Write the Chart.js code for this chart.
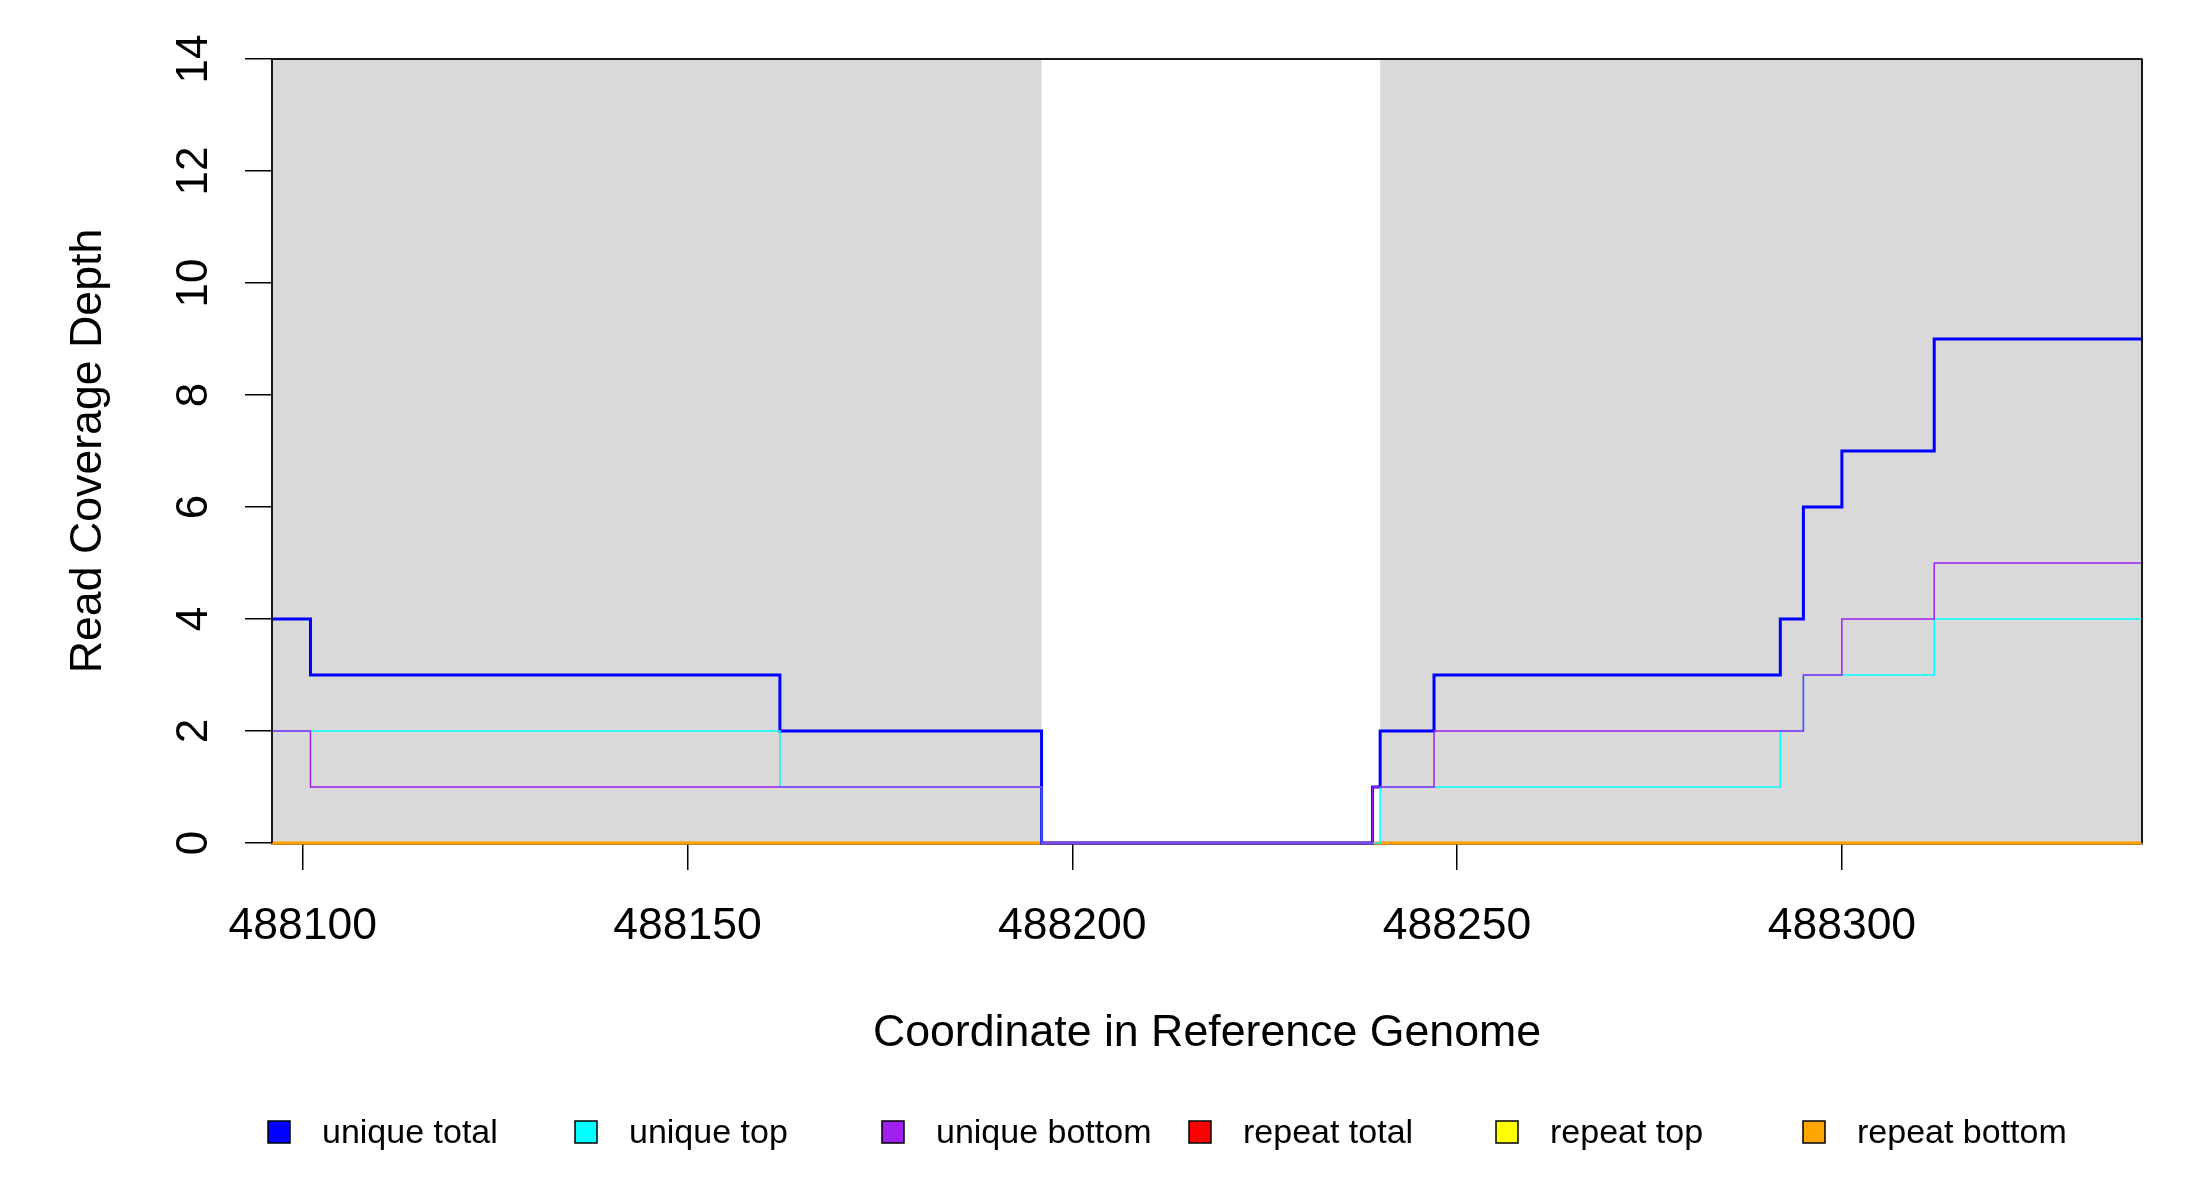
<!DOCTYPE html>
<html lang="en">
<head>
    <meta charset="UTF-8">
    <title>Read Coverage Depth</title>
    <script src="https://cdn.jsdelivr.net/npm/chart.js"></script>
    <style>
        html, body { margin: 0; padding: 0; background: #fff; }
        canvas { display: block; }
    </style>
</head>
<body>
    <canvas id="chart" width="2200" height="1200"></canvas>

    <script>
        // step breakpoints (each value holds until the next coordinate)
        const coords = [488096, 488101, 488162, 488196, 488239, 488240, 488247, 488292, 488295, 488300, 488312, 488339];
        const uniqueTotal  = [4, 3, 2, 0, 1, 2, 3, 4, 6, 7, 9, 9];
        const uniqueTop    = [2, 2, 1, 0, 0, 1, 1, 2, 3, 3, 4, 4];
        const uniqueBottom = [2, 1, 1, 0, 1, 1, 2, 2, 3, 4, 5, 5];
        const repeatTotal  = [0, 0, 0, 0, 0, 0, 0, 0, 0, 0, 0, 0];
        const repeatTop    = [0, 0, 0, 0, 0, 0, 0, 0, 0, 0, 0, 0];
        const repeatBottom = [0, 0, 0, 0, 0, 0, 0, 0, 0, 0, 0, 0];

        const seriesNames = ['unique total', 'unique top', 'unique bottom', 'repeat total', 'repeat top', 'repeat bottom'];
        const seriesColors = ['#0000ff', '#00ffff', '#a020f0', '#ff0000', '#ffff00', '#ffa500'];

        const xTicks = [488100, 488150, 488200, 488250, 488300];
        const yTicks = [0, 2, 4, 6, 8, 10, 12, 14];
        const coveredRegions = [[488096, 488196], [488240, 488339]];

        Chart.defaults.font.family = '"Liberation Sans", Arial, sans-serif';
        Chart.defaults.color = '#000';

        function toPoints(values) {
            return values.map((v, i) => ({ x: coords[i], y: v }));
        }

        const allValues = [uniqueTotal, uniqueTop, uniqueBottom, repeatTotal, repeatTop, repeatBottom];
        const widths = [3, 1.5, 1.5, 2.5, 2.5, 2.5];
        // purple on top, repeat lines underneath
        const drawOrder = [2, 1, 0, 5, 4, 3];

        const datasets = allValues.map((vals, i) => ({
            label: seriesNames[i],
            data: toPoints(vals),
            borderColor: seriesColors[i],
            backgroundColor: seriesColors[i],
            borderWidth: widths[i],
            pointRadius: 0,
            stepped: true,
            fill: false,
            clip: 4,
            order: drawOrder[i]
        }));

        const shading = {
            id: 'shading',
            beforeDatasetsDraw(chart) {
                const { ctx, chartArea, scales: { x } } = chart;
                ctx.save();
                ctx.fillStyle = '#d9d9d9';
                coveredRegions.forEach(([a, b]) => {
                    const x0 = x.getPixelForValue(a);
                    const x1 = x.getPixelForValue(b);
                    ctx.fillRect(x0, chartArea.top, x1 - x0, chartArea.bottom - chartArea.top);
                });
                // plot box, under the lines
                ctx.strokeStyle = '#333';
                ctx.lineWidth = 1.5;
                ctx.strokeRect(chartArea.left, chartArea.top, chartArea.right - chartArea.left, chartArea.bottom - chartArea.top + 1);
                ctx.restore();
            }
        };

        const extras = {
            id: 'extras',
            afterDraw(chart) {
                const { ctx, chartArea, scales: { y } } = chart;
                ctx.save();
                // left, right and top box edges stay on top
                ctx.strokeStyle = '#000';
                ctx.lineWidth = 1.5;
                ctx.beginPath();
                ctx.moveTo(chartArea.left, chartArea.top);
                ctx.lineTo(chartArea.left, chartArea.bottom);
                ctx.moveTo(chartArea.right, chartArea.top);
                ctx.lineTo(chartArea.right, chartArea.bottom);
                ctx.moveTo(chartArea.left, chartArea.top);
                ctx.lineTo(chartArea.right, chartArea.top);
                ctx.stroke();

                // y tick labels, parallel to the axis
                ctx.fillStyle = '#000';
                ctx.font = '44px "Liberation Sans", Arial, sans-serif';
                ctx.textAlign = 'center';
                ctx.textBaseline = 'alphabetic';
                yTicks.forEach(v => {
                    ctx.save();
                    ctx.translate(207, y.getPixelForValue(v));
                    ctx.rotate(-Math.PI / 2);
                    ctx.fillText(String(v), 0, 0);
                    ctx.restore();
                });

                // legend
                ctx.font = '34px "Liberation Sans", Arial, sans-serif';
                ctx.textAlign = 'left';
                chart.data.datasets.forEach((ds, i) => {
                    const cx = 279 + i * 307;
                    const cy = 1132;
                    ctx.fillStyle = ds.borderColor;
                    ctx.fillRect(cx - 11, cy - 11, 22, 22);
                    ctx.strokeStyle = '#000';
                    ctx.lineWidth = 1.5;
                    ctx.strokeRect(cx - 11, cy - 11, 22, 22);
                    ctx.fillStyle = '#000';
                    ctx.fillText(ds.label, cx + 43, 1143);
                });
                ctx.restore();
            }
        };

        new Chart(document.getElementById('chart'), {
            type: 'line',
            data: { datasets },
            plugins: [shading, extras],
            options: {
                responsive: false,
                animation: false,
                devicePixelRatio: 1,
                layout: { padding: { left: 0, top: 59, right: 58, bottom: 0 } },
                plugins: {
                    legend: { display: false },
                    tooltip: { enabled: false }
                },
                scales: {
                    x: {
                        type: 'linear',
                        min: 488096,
                        max: 488339,
                        afterBuildTicks: s => { s.ticks = xTicks.map(v => ({ value: v })); },
                        afterFit: s => { s.height = 357; },
                        grid: { drawOnChartArea: false, drawTicks: true, tickLength: 27, color: '#000', lineWidth: 1.5 },
                        border: { display: false },
                        ticks: {
                            callback: v => String(v),
                            padding: 30,
                            maxRotation: 0,
                            autoSkip: false,
                            font: { size: 44.5 }
                        },
                        title: {
                            display: true,
                            text: 'Coordinate in Reference Genome',
                            font: { size: 44.7 },
                            padding: { top: 0, bottom: 140 }
                        }
                    },
                    y: {
                        min: 0,
                        max: 14,
                        afterBuildTicks: s => { s.ticks = yTicks.map(v => ({ value: v })); },
                        afterFit: s => { s.width = 272; },
                        grid: { drawOnChartArea: false, drawTicks: true, tickLength: 27, color: '#000', lineWidth: 1.5 },
                        border: { display: false },
                        ticks: { display: false },
                        title: {
                            display: true,
                            text: 'Read Coverage Depth',
                            font: { size: 44.7 },
                            padding: { top: 62, bottom: 0 }
                        }
                    }
                }
            }
        });
    </script>
</body>
</html>
